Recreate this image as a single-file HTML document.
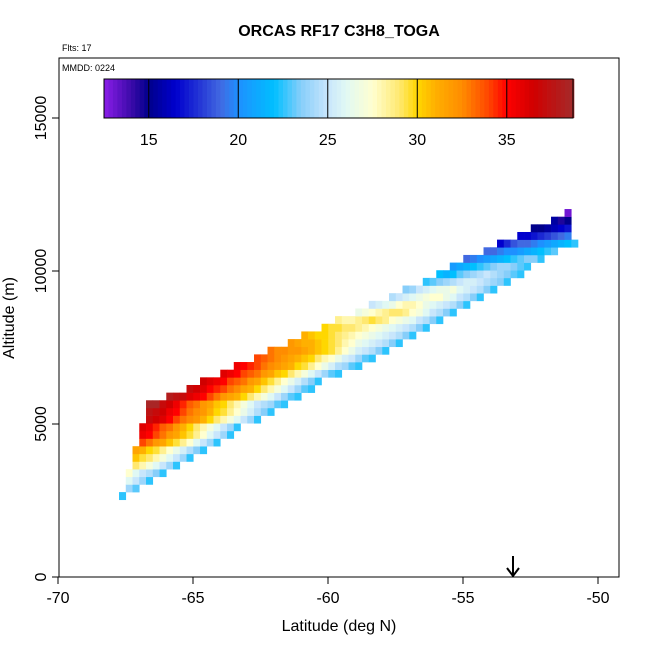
<!DOCTYPE html>
<html><head><meta charset="utf-8">
<style>
body{margin:0;background:#fff;}
svg{display:block;font-family:"Liberation Sans",sans-serif;}
</style></head>
<body>
<svg id="chart" width="650" height="650" viewBox="0 0 650 650">
<text x="339" y="36" text-anchor="middle" font-size="16" font-weight="bold">ORCAS RF17 C3H8_TOGA</text>
<text x="62" y="51" font-size="9">Flts: 17</text>
<g id="cells"></g>
<rect x="59" y="58" width="560" height="519" fill="none" stroke="#000" stroke-width="1"/>
<text x="62" y="71" font-size="9">MMDD: 0224</text>
<g id="cbar"></g>
<g id="axes"></g>
<text x="339" y="631" text-anchor="middle" font-size="16">Latitude (deg N)</text>
<text transform="translate(14,318) rotate(-90)" text-anchor="middle" font-size="16">Altitude (m)</text>
<g>
<line x1="513" y1="556" x2="513" y2="576" stroke="#000" stroke-width="2"/>
<polyline points="507,568 513,576 519,568" fill="none" stroke="#000" stroke-width="2"/>
</g>
</svg>
<script>
const xTicks=[-70,-65,-60,-55,-50];
const yTicks=[0,5000,10000,15000];
const cbTicks=[15,20,25,30,35];
const rowStart=[0,1,1,1,2,2,2,3,3,3,4,4,4,7,10,12,15,17,20,22,25,27,30,32,35,37,40,42,45,47,49,51,54,56,59,61,64,66];
const rowValues=[
[22.5],
[24,23],
[26,25,24,22.5],
[27.5,26,25,24.5,23.5,22.5],
[29,28,27,26,25,24,22.5],
[30.5,29.5,29,28,27,26,25,24,22.5],
[31.5,31,30,29.5,28.5,27.5,26.5,25.5,24.5,23.5,22.5],
[34,33,32,31.5,30.5,29.5,28.5,27.5,26,25,24,22.5],
[35.5,35,34,33,32,31.5,30.5,29.5,28.5,27.5,26,25,24,22.5],
[36,35.5,34.5,33.5,33,32,31,30,29,28,27,26,25,24,22.5],
[37,36.5,36,35,34,33,32.5,32,31,30,29,28,27,26,25,24,22.5],
[37.5,37,36.5,35.5,35,34,33,32.5,32,31,30,29.5,28.5,27.5,26.5,25.5,24.5,23.5,22.5],
[38.5,38.5,37,36.5,35.5,34.5,33.5,33,32,31.5,30.5,30,29,28,27,26,25,24.5,24,23,22.5],
[38,37.5,37,36,35.5,35,34,33,32,31.5,31,30,29,28,27,26,25,24,23,22.5],
[37,36.5,36,35,34.5,34,33,32.5,31.5,31,30,29,28,27,26,25,24,23,22.5],
[36.5,36,35.5,35,34,33.5,33,32,31.5,30.5,29.5,28.5,27.5,26.5,25.5,24.5,23.5,22.5],
[36,35.5,35,34,33.5,33,32,31.5,30.5,30,29,28,27,26,25,24,23,22.5],
[35.5,35,34.5,34,33,32.5,32,31.5,31,30,29.5,28.5,27.5,26.5,25.5,24.5,24,23,22.5],
[34,33.5,33,32.5,32,31.5,31,30.5,30,29,28,27.5,26.5,25.5,25,24,23,22.5],
[33,32.5,32.5,32,32,31.5,31,30.5,30,29.5,28.5,27.5,26.5,25.5,25,24.5,23.5,22.5],
[32,31.5,31,31,30.5,30,29.5,29,28,27.5,26.5,26,25.5,25,24.5,23.5,22.5],
[31,30.5,30,30,29.5,29,28.5,28,27.5,27,26.5,26,25.5,25,24.5,23.5,22.5],
[30,29.5,29.5,29,29,28.5,28,27.5,27,26.5,26,25.5,25,24.5,23.5,22.5],
[28.5,28,28,28.5,29,29.5,29,28.5,27.5,27,26.5,26,25,24.5,23.5,22.5],
[26.5,27,27.5,28,28.5,29,29,28.5,27.5,27,26,25,24.5,23.5,22.5],
[25,25.5,26,26.5,27.5,28,28,27.5,26.5,26,25.5,25,24.5,23.5,22.5],
[24.5,25,25.5,26,26.5,27,27.5,27.5,26.5,26,25,24.5,23.5,22.5],
[23.5,24,25,25.5,26,26.5,26.5,27,26,25.5,25,24.5,23.5,22.5],
[22.5,23,23.5,24,24.5,25,25.5,25.5,25,24.5,24,23.5,22.5],
[22,21.5,22,23,23.5,24,24.5,25,24.5,24,23.5,23,22.5],
[20.5,21,21.5,22,22.5,23,23.5,24,24,23.5,23,22.5],
[19,19.5,20,20.5,21,21.5,22,22.5,23,23.5,23.5,22.5],
[19,19,19.5,20,20,20.5,21,21.5,22,22.5,23],
[16.5,17.5,18.5,19,19,19.5,20,20.5,21,21.5,22,22.5],
[16.5,16.5,17,17.5,18,18.5,19,19.5],
[15,15,15.5,16,16.5,17],
[15.5,14.5,15],
[13]
];
const altBase=2525, altStep=250, latBase=-67.74, latStep=0.25;
const NS='http://www.w3.org/2000/svg';
function xS(lat){return 58+(lat+70)*27;}
function yS(alt){return 577-alt*0.0306;}
const stops=[[12.5,[138,30,232]],[14,[60,10,170]],[15,[0,0,139]],[16.5,[0,0,205]],[18,[40,60,215]],[19,[65,105,225]],[20,[30,144,255]],[22,[0,191,255]],[23.5,[135,206,250]],[25,[200,230,252]],[26,[224,248,244]],[27.5,[255,255,208]],[29,[255,232,112]],[30,[255,215,0]],[31,[255,176,0]],[32.5,[255,140,0]],[34,[255,69,0]],[35,[255,0,0]],[36.5,[208,0,0]],[38.7,[165,42,42]]];
function col(v){
 if(v<=stops[0][0])return 'rgb('+stops[0][1]+')';
 for(let i=1;i<stops.length;i++){if(v<=stops[i][0]){const a=stops[i-1],b=stops[i],t=(v-a[0])/(b[0]-a[0]);
  return 'rgb('+a[1].map((c,j)=>Math.round(c+(b[1][j]-c)*t)).join(',')+')';}}
 return 'rgb('+stops[stops.length-1][1]+')';
}
const cells=document.getElementById('cells');
rowValues.forEach((vals,k)=>{
 const a0=altBase+k*altStep;
 vals.forEach((v,i)=>{
  const lat=latBase+(rowStart[k]+i)*latStep;
  const r=document.createElementNS(NS,'rect');
  const x1=xS(lat),x2=xS(lat+latStep),y1=yS(a0+altStep),y2=yS(a0);
  r.setAttribute('x',x1.toFixed(2));r.setAttribute('y',y1.toFixed(2));
  r.setAttribute('width',(x2-x1+0.3).toFixed(2));r.setAttribute('height',(y2-y1+0.3).toFixed(2));
  r.setAttribute('fill',col(v));
  
  
  cells.appendChild(r);
 });
});
// colorbar
const cb=document.getElementById('cbar');
const cbMin=12.5,cbMax=38.7,cbX0=104,cbX1=573;
function cbx(v){return cbX0+(v-cbMin)/(cbMax-cbMin)*(cbX1-cbX0);}
for(let v=cbMin;v<cbMax;v+=0.25){
 const r=document.createElementNS(NS,'rect');
 r.setAttribute('x',cbx(v));r.setAttribute('y',79);r.setAttribute('width',cbx(v+0.25)-cbx(v)+0.4);r.setAttribute('height',39);
 r.setAttribute('fill',col(v+0.125));
 
 
 cb.appendChild(r);
}
const cbf=document.createElementNS(NS,'rect');
cbf.setAttribute('x',cbX0);cbf.setAttribute('y',79);cbf.setAttribute('width',cbX1-cbX0);cbf.setAttribute('height',39);
cbf.setAttribute('fill','none');cbf.setAttribute('stroke','#000');


cb.appendChild(cbf);
cbTicks.forEach(v=>{
 const l=document.createElementNS(NS,'line');
 l.setAttribute('x1',cbx(v));l.setAttribute('x2',cbx(v));l.setAttribute('y1',79);l.setAttribute('y2',118);l.setAttribute('stroke','#000');
 
 
 cb.appendChild(l);
 const t=document.createElementNS(NS,'text');
 t.setAttribute('x',cbx(v));t.setAttribute('y',145);t.setAttribute('text-anchor','middle');t.setAttribute('font-size','16');
 t.textContent=v;
 
 
 cb.appendChild(t);
});
// axes
const ax=document.getElementById('axes');
xTicks.forEach(v=>{
 const l=document.createElementNS(NS,'line');
 l.setAttribute('x1',xS(v));l.setAttribute('x2',xS(v));l.setAttribute('y1',577);l.setAttribute('y2',584);l.setAttribute('stroke','#000');
 
 
 ax.appendChild(l);
 const t=document.createElementNS(NS,'text');
 t.setAttribute('x',xS(v));t.setAttribute('y',603);t.setAttribute('text-anchor','middle');t.setAttribute('font-size','16');
 t.textContent=v;
 
 
 ax.appendChild(t);
});
yTicks.forEach(v=>{
 const l=document.createElementNS(NS,'line');
 l.setAttribute('x1',52);l.setAttribute('x2',59);l.setAttribute('y1',yS(v));l.setAttribute('y2',yS(v));l.setAttribute('stroke','#000');
 
 
 ax.appendChild(l);
 const t=document.createElementNS(NS,'text');
 t.setAttribute('transform','translate(46,'+yS(v)+') rotate(-90)');t.setAttribute('text-anchor','middle');t.setAttribute('font-size','16');
 t.textContent=v;
 
 
 ax.appendChild(t);
});
</script>
</body></html>
